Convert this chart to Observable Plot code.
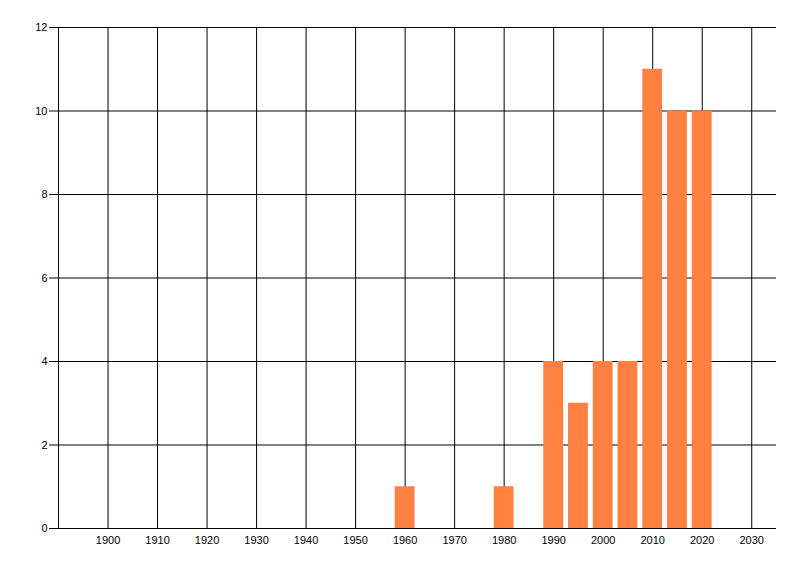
<!DOCTYPE html>
<html>
<head>
<meta charset="utf-8">
<script src="https://cdn.jsdelivr.net/npm/d3@7"></script>
<script src="https://cdn.jsdelivr.net/npm/@observablehq/plot@0.6"></script>
<style>
  html, body { margin: 0; padding: 0; background: #fff; }
  svg { display: block; }
</style>
</head>
<body>
<div id="chart"></div>
<script>
const years  = [1960, 1980, 1990, 1995, 2000, 2005, 2010, 2015, 2020];
const counts = [1, 1, 4, 3, 4, 4, 11, 10, 10];
const xTicks = [1900, 1910, 1920, 1930, 1940, 1950, 1960, 1970, 1980, 1990, 2000, 2010, 2020, 2030];
const yTicks = [0, 2, 4, 6, 8, 10, 12];

const data = years.map((y, i) => ({year: y, count: counts[i]}));
const halfWidth = 2;

const chart = Plot.plot({
  width: 800,
  height: 576,
  marginLeft: 58,
  marginRight: 24,
  marginTop: 27,
  marginBottom: 48,
  style: {fontFamily: "'Liberation Sans', Arial, sans-serif", fontSize: "11px", color: "black", background: "white"},
  x: {domain: [1890, 2035]},
  y: {domain: [0, 12]},
  marks: [
    Plot.gridX(xTicks, {stroke: "black", strokeOpacity: 1, strokeWidth: 1}),
    Plot.gridY(yTicks, {stroke: "black", strokeOpacity: 1, strokeWidth: 1}),
    Plot.ruleX([1890], {stroke: "black"}),
    Plot.rectY(data, {x1: d => d.year - halfWidth, x2: d => d.year + halfWidth, y1: 0, y2: "count", fill: "#ff8040", inset: 0}),
    Plot.axisY(yTicks, {tickSize: 9, tickPadding: 2, label: null, stroke: "black", fill: "black"}),
    Plot.axisX(xTicks, {tickSize: 0, tickPadding: 8, label: null, fill: "black", tickFormat: d => String(d)})
  ]
});
document.getElementById("chart").appendChild(chart);
</script>
</body>
</html>
